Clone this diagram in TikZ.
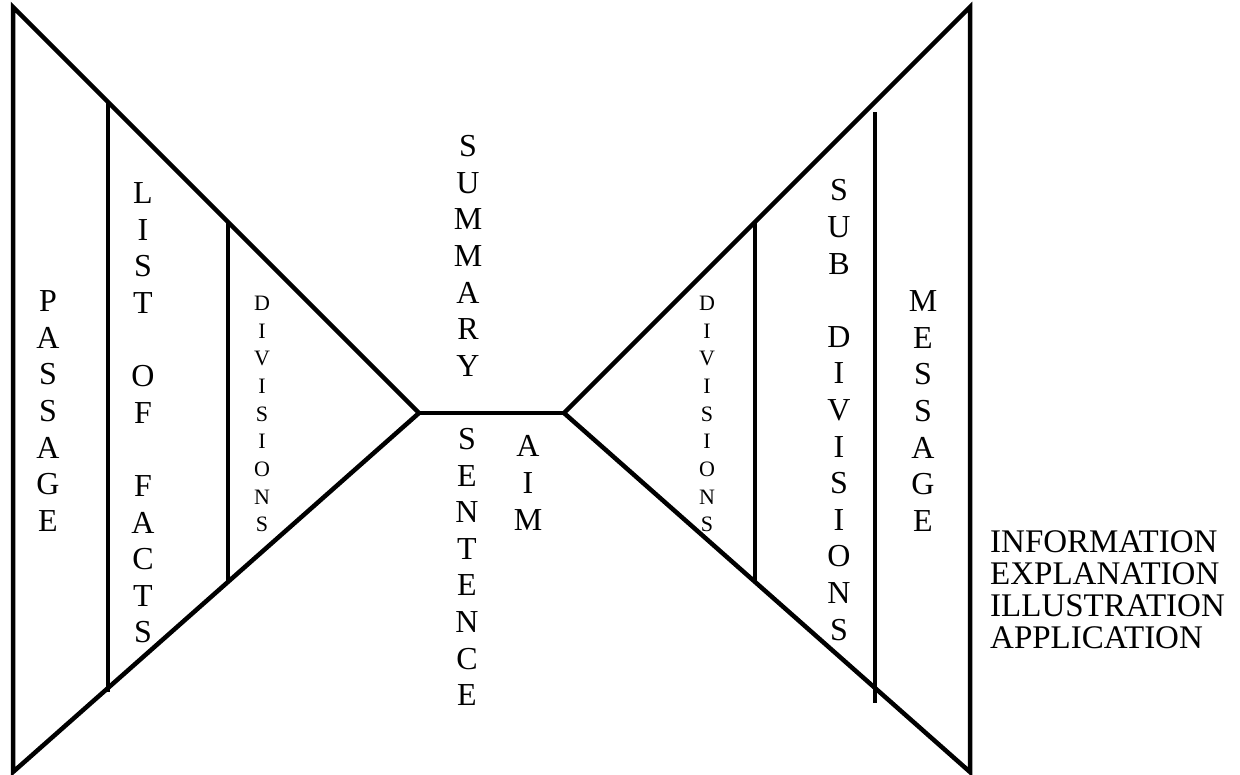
\documentclass[tikz,border=0pt]{standalone}
\usepackage{fontspec}
\setmainfont{Liberation Serif}
\usetikzlibrary{positioning}

\begin{document}
\begin{tikzpicture}[x=1pt,y=-1pt,
    edge/.style={line width=4.5pt,line join=miter},
    vtext/.style={align=center,inner sep=0pt,font=\fontsize{32}{36.6}\selectfont},
    vsmall/.style={align=center,inner sep=0pt,font=\fontsize{22}{27.7}\selectfont}]
  \useasboundingbox (0,0) rectangle (1240,774);
  % outline of the two funnels
  \coordinate (tl) at (13,7);
  \coordinate (bl) at (13,772);
  \coordinate (ml) at (419,413);
  \coordinate (mr) at (564,413);
  \coordinate (tr) at (970,7);
  \coordinate (br) at (970,772);
  \draw[edge] (ml) -- (tl) -- (bl) -- cycle;
  \draw[edge] (mr) -- (tr) -- (br) -- cycle;
  \draw[edge] (ml) -- (mr);
  % inner dividers
  \draw[edge] (108,102) -- (108,692);
  \draw[edge] (228,222) -- (228,583);
  \draw[edge] (755,222) -- (755,583);
  \draw[edge] (875,112) -- (875,703);
  % labels
  \node[vtext] (passage) at (48,411) {P\\A\\S\\S\\A\\G\\E};
  \node[vtext] (facts) at (143,413) {L\\I\\S\\T\\[36.6pt]O\\F\\[36.6pt]F\\A\\C\\T\\S};
  \node[vsmall] (divl) at (262,414) {D\\I\\V\\I\\S\\I\\O\\N\\S};
  \node[vtext] (summary) at (468,256) {S\\U\\M\\M\\A\\R\\Y};
  \node[vtext] (sentence) at (467,567) {S\\E\\N\\T\\E\\N\\C\\E};
  \node[vtext] (aim) at (528,483) {A\\I\\M};
  \node[vsmall] (divr) at (707,414) {D\\I\\V\\I\\S\\I\\O\\N\\S};
  \node[vtext] (subdiv) at (839,410) {S\\U\\B\\[36.6pt]D\\I\\V\\I\\S\\I\\O\\N\\S};
  \node[vtext] (message) at (923,411) {M\\E\\S\\S\\A\\G\\E};
  \node[align=left,inner sep=0pt,anchor=west,
        font=\fontsize{33}{32}\selectfont] (uses) at (990,590)
        {INFORMATION\\EXPLANATION\\ILLUSTRATION\\APPLICATION};
\end{tikzpicture}
\end{document}
